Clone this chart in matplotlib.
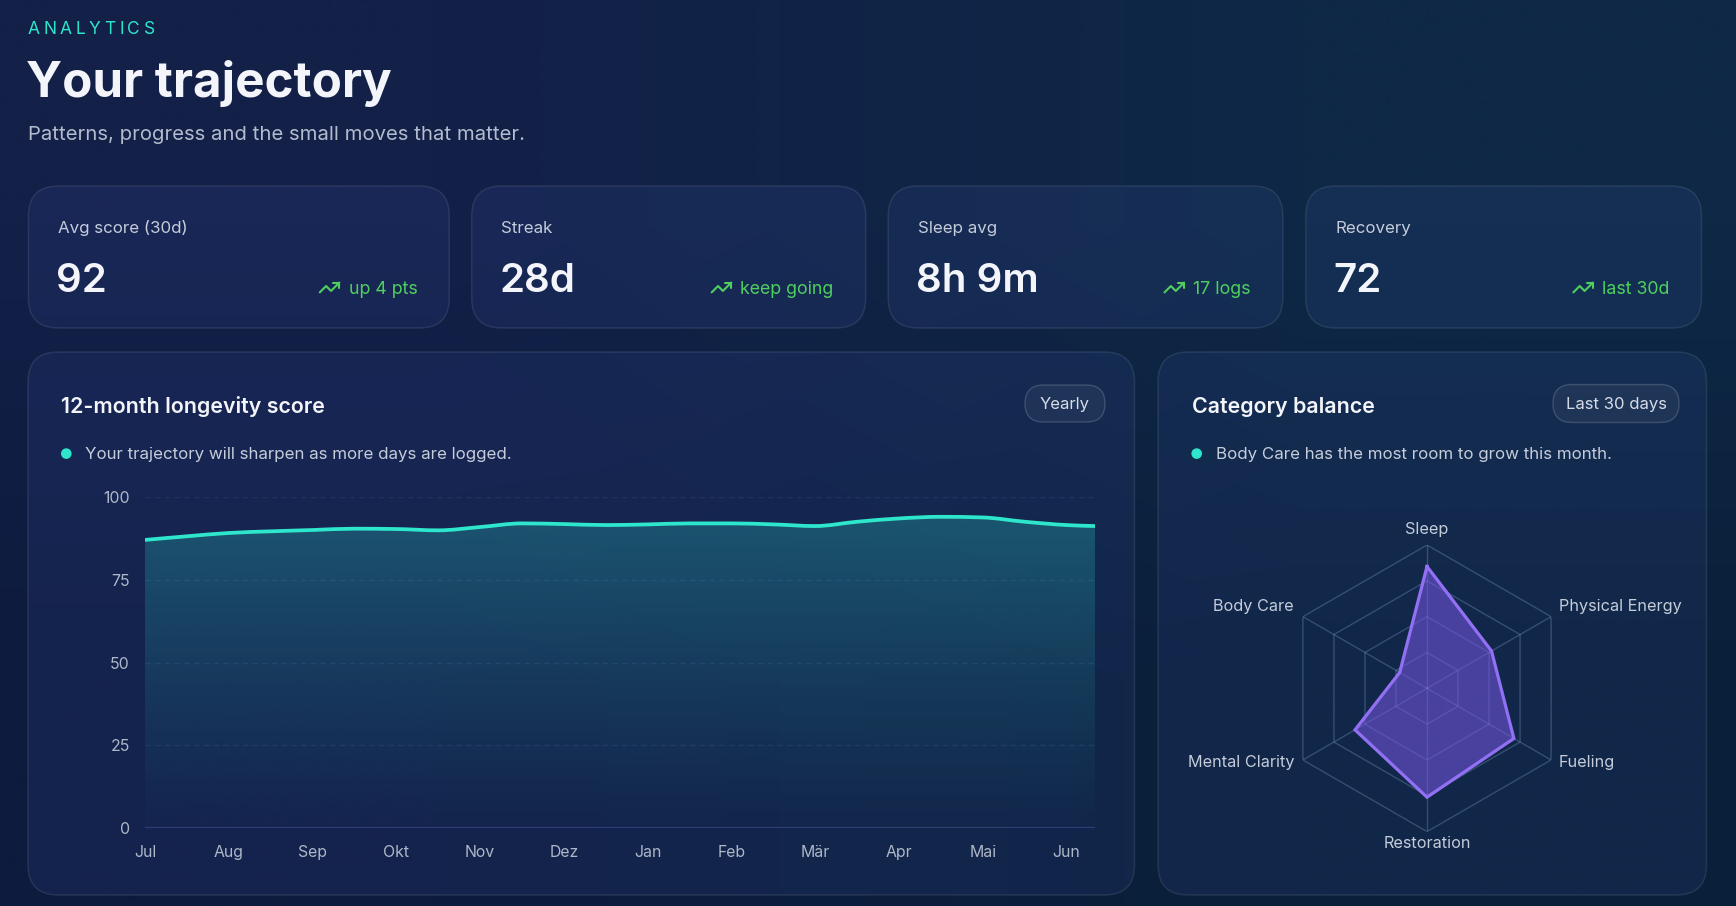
import numpy as np
import matplotlib
matplotlib.use('Agg')
import matplotlib.pyplot as plt
from matplotlib.patches import FancyBboxPatch, PathPatch, Circle
from matplotlib.path import Path
from matplotlib.transforms import offset_copy

plt.rcParams['font.family'] = ['Inter', 'DejaVu Sans']

W, H = 1736, 906

# ---- data ----
kpi_labels = ['Avg score (30d)', 'Streak', 'Sleep avg', 'Recovery']
kpi_values = ['92', '28d', '8h 9m', '72']
kpi_trends = ['up 4 pts', 'keep going', '17 logs', 'last 30d']

months = ['Jul', 'Aug', 'Sep', 'Okt', 'Nov', 'Dez', 'Jan', 'Feb', 'Mär', 'Apr', 'Mai', 'Jun']
# score samples every half month (x in month units, last one = end of June)
score_x = [0, 0.5, 1, 1.5, 2, 2.5, 3, 3.5, 4, 4.5, 5, 5.5, 6, 6.5, 7, 7.5,
           8, 8.5, 9, 9.5, 10, 10.5, 11, 11.34]
scores = [87.1, 88.2, 89.2, 89.7, 90.1, 90.5, 90.4, 90.0, 91.0, 92.1, 91.9, 91.6,
          91.8, 92.1, 92.1, 91.8, 91.3, 92.6, 93.6, 94.1, 93.9, 92.6, 91.6, 91.3]
score_ticks = [0, 25, 50, 75, 100]

radar_cats = ['Sleep', 'Physical Energy', 'Fueling', 'Restoration', 'Mental Clarity', 'Body Care']
radar_vals = [85, 52, 70, 76, 58, 22]
radar_rings = [25, 50, 75, 100]

# ---- colours ----
TEAL = '#2ee6cc'
GREEN = '#4fcf5f'
WHITE = '#f3f5fa'
SOFT = '#c5ccda'
MUTED = '#aeb7c8'

fig = plt.figure(figsize=(W / 100, H / 100), dpi=100)
bg = fig.add_axes([0, 0, 1, 1])
bg.set_xlim(0, W)
bg.set_ylim(H, 0)
bg.axis('off')

# background gradient (corner colours)
corners = np.array([[[19, 32, 72], [14, 40, 70]],
                    [[13, 27, 62], [10, 32, 58]]]) / 255.0
bg.imshow(corners, extent=[0, W, H, 0], interpolation='bilinear', aspect='auto', zorder=0)

renderer = fig.canvas.get_renderer()


def card(x0, y0, x1, y1, r=30, z=1):
    p = FancyBboxPatch((x0, y0), x1 - x0, y1 - y0,
                       boxstyle='round,pad=0,rounding_size=%d' % r,
                       fc=(0.38, 0.48, 0.95, 0.085), ec=(1, 1, 1, 0.09), lw=1.1, zorder=z)
    bg.add_patch(p)


def pill(x0, y0, x1, y1, text):
    p = FancyBboxPatch((x0, y0), x1 - x0, y1 - y0,
                       boxstyle='round,pad=0,rounding_size=%f' % ((y1 - y0) / 2),
                       fc=(1, 1, 1, 0.05), ec=(1, 1, 1, 0.16), lw=1.0, zorder=2)
    bg.add_patch(p)
    bg.text((x0 + x1) / 2, 409, text, ha='center', va='baseline', fontsize=12,
            color='#d6dce7', zorder=3)


def trend_icon(cx, cy, s=0.98, color=GREEN):
    a = np.array([(22, 7), (13.5, 15.5), (8.5, 10.5), (2, 17)], float)
    b = np.array([(16, 7), (22, 7), (22, 13)], float)
    for pts in (a, b):
        bg.plot(cx + (pts[:, 0] - 12) * s, cy + (pts[:, 1] - 12) * s, color=color,
                lw=1.5, solid_capstyle='round', solid_joinstyle='round', zorder=3)


# ---- header ----
x = 27.7
for ch in 'ANALYTICS':
    t = bg.text(x, 30, ch, ha='left', va='center', fontsize=12.5, color=TEAL, zorder=3)
    x += t.get_window_extent(renderer).width + 3.6
bg.text(26, 97, 'Your trajectory', ha='left', va='baseline', fontsize=35.5,
        fontweight='bold', color=WHITE, zorder=3)
bg.text(28, 140, 'Patterns, progress and the small moves that matter.', ha='left',
        va='baseline', fontsize=14.6, color='#b3bccd', zorder=3)

# ---- KPI cards ----
card_x = [(28.4, 449.3), (471.7, 865.7), (888.2, 1282.8), (1305.8, 1701.5)]
for (x0, x1), lab, val, tr in zip(card_x, kpi_labels, kpi_values, kpi_trends):
    card(x0, 186, x1, 328)
    bg.text(x0 + 29.5, 233.3, lab, ha='left', va='baseline', fontsize=12.2, color=SOFT, zorder=3)
    bg.text(x0 + 28, 292, val, ha='left', va='baseline', fontsize=29,
            fontweight='semibold', color=WHITE, zorder=3)
    t = bg.text(x1 - 32, 293.5, tr, ha='right', va='baseline', fontsize=12.8, color=GREEN, zorder=3)
    w = t.get_window_extent(renderer).width
    trend_icon(x1 - 32 - w - 9 - 10, 287.5)

# ---- bottom panels ----
card(28, 352, 1134.5, 895)
card(1158, 352, 1706.5, 895)

bg.text(61, 413.3, '12-month longevity score', ha='left', va='baseline', fontsize=15.4,
        fontweight='semibold', color=WHITE, zorder=3)
bg.text(1192.5, 413.3, 'Category balance', ha='left', va='baseline', fontsize=15.4,
        fontweight='semibold', color=WHITE, zorder=3)
pill(1025, 385, 1105, 422, 'Yearly')
pill(1553, 384.5, 1679, 422.5, 'Last 30 days')

bg.add_patch(Circle((66.3, 453.6), 4.6, color=TEAL, zorder=3))
bg.text(85, 459.5, 'Your trajectory will sharpen as more days are logged.', ha='left',
        va='baseline', fontsize=12.2, color=SOFT, zorder=3)
bg.add_patch(Circle((1196.7, 453.6), 4.6, color=TEAL, zorder=3))
bg.text(1216, 459.5, 'Body Care has the most room to grow this month.', ha='left',
        va='baseline', fontsize=12.2, color=SOFT, zorder=3)

# ---- line chart ----
x_end = score_x[-1]
ax = fig.add_axes([145 / W, 1 - 827.7 / H, 950 / W, 330.4 / H])
ax.set_xlim(0, x_end)
ax.set_ylim(0, 100)
ax.patch.set_alpha(0)
for s in ax.spines.values():
    s.set_visible(False)
ax.set_yticks(score_ticks)
ax.set_xticks(range(len(months)))
ax.set_xticklabels(months)
ax.tick_params(axis='both', length=0, colors=MUTED, labelsize=11.4)
ax.tick_params(axis='y', pad=11)
ax.tick_params(axis='x', pad=12.5)
for lbl in ax.get_yticklabels():
    lbl.set_va('center_baseline')
for v in score_ticks[1:]:
    ax.axhline(v, color=(0.6, 0.7, 0.95, 0.10), lw=1, ls=(0, (4, 3)), zorder=1)
ax.axhline(0, color=(0.35, 0.45, 0.8, 0.35), lw=1.6, zorder=1)


def monotone_path(xs, ys):
    xs = np.asarray(xs, float)
    ys = np.asarray(ys, float)
    n = len(xs)
    h = np.diff(xs)
    sl = np.diff(ys) / h
    t = np.zeros(n)
    for i in range(1, n - 1):
        s0, s1 = sl[i - 1], sl[i]
        p = (s0 * h[i] + s1 * h[i - 1]) / (h[i - 1] + h[i])
        t[i] = (np.sign(s0) + np.sign(s1)) * min(abs(s0), abs(s1), 0.5 * abs(p))
    t[0] = (3 * sl[0] - t[1]) / 2
    t[-1] = (3 * sl[-1] - t[-2]) / 2
    verts = [(xs[0], ys[0])]
    codes = [Path.MOVETO]
    for i in range(n - 1):
        d = h[i] / 3
        verts += [(xs[i] + d, ys[i] + d * t[i]), (xs[i + 1] - d, ys[i + 1] - d * t[i + 1]),
                  (xs[i + 1], ys[i + 1])]
        codes += [Path.CURVE4] * 3
    return verts, codes


verts, codes = monotone_path(score_x, scores)
area = Path(verts + [(score_x[-1], 0), (score_x[0], 0), (score_x[0], scores[0])],
            codes + [Path.LINETO, Path.LINETO, Path.CLOSEPOLY])
area_patch = PathPatch(area, fc='none', ec='none', transform=ax.transData)
ax.add_patch(area_patch)

grad = np.zeros((256, 1, 4))
yy = np.linspace(0, 1, 256)
grad[:, 0, 0] = 45 / 255
grad[:, 0, 1] = 212 / 255
grad[:, 0, 2] = 200 / 255
grad[:, 0, 3] = 0.01 + 0.28 * yy ** 1.1
im = ax.imshow(grad, extent=[0, x_end, 0, 100], origin='lower', aspect='auto', zorder=2)
im.set_clip_path(area_patch)

ax.add_patch(PathPatch(Path(verts, codes), fc='none', ec=TEAL, lw=2.7,
                       capstyle='round', zorder=3))

# ---- radar ----
cx, cy, R = 1427, 688.3, 143.3
rax = fig.add_axes([(cx - R) / W, 1 - (cy + R) / H, 2 * R / W, 2 * R / H], projection='polar')
rax.set_theta_offset(np.pi / 2)
rax.set_theta_direction(-1)
rax.set_ylim(0, 100)
rax.axis('off')
rax.patch.set_alpha(0)

theta = np.arange(len(radar_cats)) * 2 * np.pi / len(radar_cats)
th_c = np.append(theta, theta[0])
grid_col = (0.55, 0.66, 0.82, 0.30)
for r in radar_rings:
    rax.plot(th_c, [r] * len(th_c), color=grid_col, lw=1.0, zorder=1)
for t in theta:
    rax.plot([t, t], [0, radar_rings[-1]], color=grid_col, lw=1.0, zorder=1)

vals_c = np.append(radar_vals, radar_vals[0])
rax.fill(th_c, vals_c, color=(118 / 255, 86 / 255, 226 / 255), alpha=0.56, lw=0, zorder=2)
rax.plot(th_c, vals_c, color='#9270f4', lw=2.3, zorder=3, solid_joinstyle='miter')

lab_off = [(0, 15.5, 'center', 'center'), (7.6, 10, 'left', 'center'),
           (7.6, -2.7, 'left', 'center'), (0, -12.3, 'center', 'center'),
           (-7.9, -2.7, 'right', 'center'), (-8.9, 10, 'right', 'center')]
for t, name, (dx, dy, ha, va) in zip(theta, radar_cats, lab_off):
    tr = offset_copy(rax.transData, fig=fig, x=dx, y=dy, units='dots')
    rax.text(t, radar_rings[-1], name, transform=tr, ha=ha, va=va, fontsize=11.7,
             color=SOFT, clip_on=False, zorder=4)

fig.savefig('out.png', dpi=100)
